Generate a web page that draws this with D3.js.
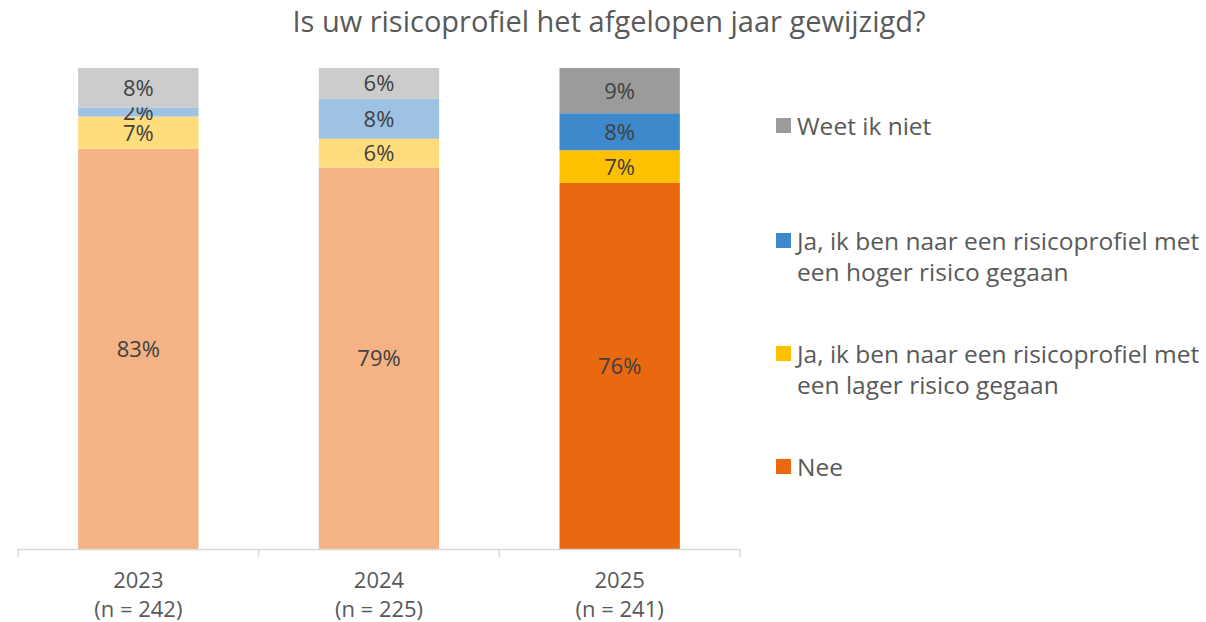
<!DOCTYPE html>
<html>
<head>
<meta charset="utf-8">
<script src="https://cdn.jsdelivr.net/npm/d3@7"></script>
<style>
  html, body { margin: 0; padding: 0; background: #fff; }
  svg { display: block; }
  text { font-family: "Open Sans", "Liberation Sans", sans-serif; }
</style>
</head>
<body>
<svg id="chart" width="1206" height="622"></svg>
<script>
// ---- data ----
const categories = ["2023", "2024", "2025"];
const sampleSizes = ["(n = 242)", "(n = 225)", "(n = 241)"];
const seriesNames = [
  "Nee",
  "Ja, ik ben naar een risicoprofiel met een lager risico gegaan",
  "Ja, ik ben naar een risicoprofiel met een hoger risico gegaan",
  "Weet ik niet"
];
const legendLines = [
  ["Nee"],
  ["Ja, ik ben naar een risicoprofiel met", "een lager risico gegaan"],
  ["Ja, ik ben naar een risicoprofiel met", "een hoger risico gegaan"],
  ["Weet ik niet"]
];
const neeValues    = [83.2, 79.2, 76.1];
const lagerValues  = [6.7, 6.0, 6.8];
const hogerValues  = [1.9, 8.3, 7.7];
const weetValues   = [8.2, 6.4, 9.4];
const title = "Is uw risicoprofiel het afgelopen jaar gewijzigd?";

// colours: faded for earlier years, full for the latest year
const fullColors  = ["#E96810", "#FFC000", "#3E88CC", "#9B9B9B"];
const fadedColors = ["#F4B285", "#FFDC7C", "#9DC2E4", "#CCCCCC"];

// ---- build ----
const svg = d3.select("#chart");
const plot = { left: 18, right: 740, top: 68, bottom: 549 };

const rows = categories.map((c, i) => ({
  cat: c,
  s0: neeValues[i], s1: lagerValues[i], s2: hogerValues[i], s3: weetValues[i]
}));
const keys = ["s0", "s1", "s2", "s3"];
const stacked = d3.stack().keys(keys).offset(d3.stackOffsetExpand)(rows);

const x = d3.scaleBand().domain(categories).range([plot.left, plot.right])
  .paddingInner(0.5).paddingOuter(0.25);
const y = d3.scaleLinear().domain([0, 1]).range([plot.bottom, plot.top]);

// title
svg.append("text")
  .attr("x", 609).attr("y", 32)
  .attr("text-anchor", "middle")
  .attr("font-size", 29)
  .attr("fill", "#595959")
  .text(title);

// bars
const lastIdx = categories.length - 1;
stacked.forEach((layer, si) => {
  const g = svg.append("g");
  g.selectAll("rect").data(layer).join("rect")
    .attr("x", d => x(d.data.cat))
    .attr("width", x.bandwidth())
    .attr("y", d => y(d[1]))
    .attr("height", d => y(d[0]) - y(d[1]))
    .attr("fill", (d, i) => i === lastIdx ? fullColors[si] : fadedColors[si]);
  g.selectAll("text").data(layer).join("text")
    .attr("x", d => x(d.data.cat) + x.bandwidth() / 2)
    .attr("y", d => (y(d[0]) + y(d[1])) / 2)
    .attr("dy", "0.36em")
    .attr("text-anchor", "middle")
    .attr("font-size", 22)
    .attr("fill", "#404040")
    .text(d => Math.round(d.data[layer.key]) + "%");
});

// axis
const axisG = svg.append("g").attr("transform", `translate(0,${plot.bottom})`);
axisG.append("line")
  .attr("x1", plot.left).attr("x2", plot.right)
  .attr("y1", 0.5).attr("y2", 0.5)
  .attr("stroke", "#D9D9D9").attr("stroke-width", 1.5);
const step = x.step();
const tickXs = d3.range(categories.length + 1).map(i => plot.left + i * step);
axisG.selectAll("line.tick").data(tickXs).join("line")
  .attr("class", "tick")
  .attr("x1", d => d).attr("x2", d => d)
  .attr("y1", 0).attr("y2", 8)
  .attr("stroke", "#D9D9D9").attr("stroke-width", 1.5);
categories.forEach((c, i) => {
  const cx = x(c) + x.bandwidth() / 2;
  axisG.append("text")
    .attr("x", cx).attr("y", 39)
    .attr("text-anchor", "middle").attr("font-size", 22).attr("fill", "#595959")
    .text(c);
  axisG.append("text")
    .attr("x", cx).attr("y", 68)
    .attr("text-anchor", "middle").attr("font-size", 22).attr("fill", "#595959")
    .text(sampleSizes[i]);
});

// legend (reverse order: top = last series)
const legendY = [467, 354, 241, 126];
const lg = svg.append("g");
legendLines.forEach((lines, si) => {
  const yy = legendY[si];
  lg.append("rect")
    .attr("x", 776).attr("y", yy - 8)
    .attr("width", 15).attr("height", 15)
    .attr("fill", fullColors[si]);
  lines.forEach((t, li) => {
    lg.append("text")
      .attr("x", 797).attr("y", yy + li * 31)
      .attr("dy", "0.36em")
      .attr("font-size", 24.5).attr("fill", "#595959")
      .text(t);
  });
});
</script>
</body>
</html>
